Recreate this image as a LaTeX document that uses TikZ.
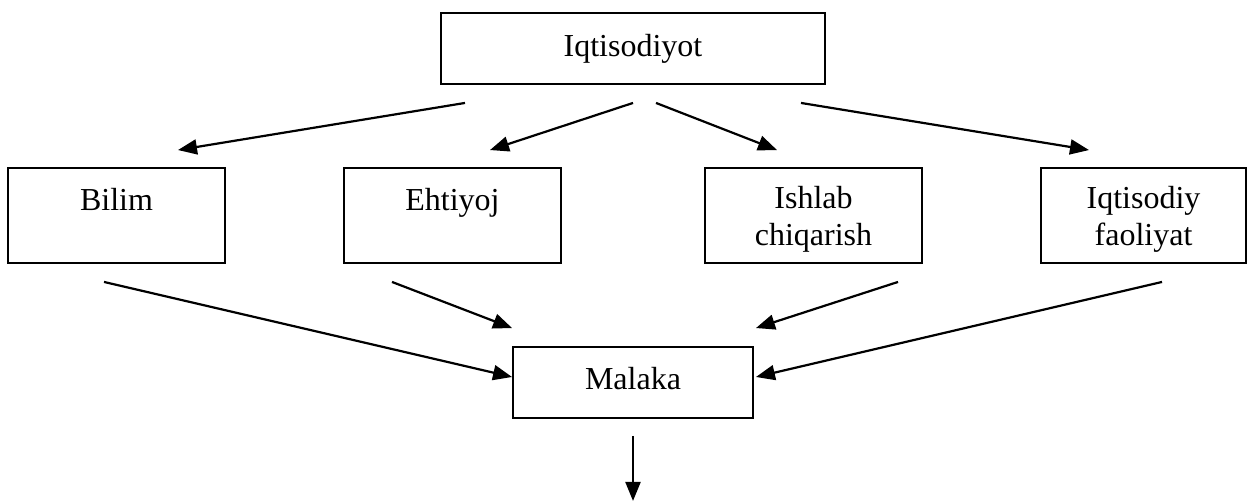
\documentclass[tikz,border=0pt]{standalone}
\usepackage{fontspec}
\setmainfont{Liberation Serif}
\usetikzlibrary{arrows.meta,calc}

\begin{document}
\begin{tikzpicture}[x=0.5pt, y=-0.5pt, font=\fontsize{16}{18.5}\selectfont,
    box/.style={draw, line width=0.95pt, inner sep=0pt, minimum width=108.5pt, minimum height=47.5pt},
    txt/.style={align=center, anchor=north, inner sep=0pt, yshift=-10.5pt},
    arr/.style={line width=1.1pt, -{Triangle[length=9.5pt, width=7.5pt]}}]
    \useasboundingbox (0,0) rectangle (1248,501);

    % top box
    \node [box, minimum width=192pt, minimum height=35.5pt] (iqt) at (633,48.5) {};
    \node [txt, yshift=-0.5pt] (iqt-t) at (iqt.north) {Iqtisodiyot};

    % middle row
    \node [box] (bilim) at (116.5,215.5) {};
    \node [txt] (bilim-t) at (bilim.north) {Bilim};

    \node [box] (ehtiyoj) at (452.5,215.5) {};
    \node [txt] (ehtiyoj-t) at (ehtiyoj.north) {Ehtiyoj};

    \node [box] (ishlab) at (813.5,215.5) {};
    \node [txt, yshift=1pt] (ishlab-t) at (ishlab.north) {Ishlab\\chiqarish};

    \node [box, minimum width=102.5pt] (faoliyat) at (1143.5,215.5) {};
    \node [txt, yshift=1pt] (faoliyat-t) at (faoliyat.north) {Iqtisodiy\\faoliyat};

    % bottom box
    \node [box, minimum width=120pt, minimum height=35.5pt] (malaka) at (633,382.5) {};
    \node [txt] (malaka-t) at (malaka.north) {Malaka};

    % arrows down from the top
    \draw [arr] ($(iqt.south)+(-168,18)$) -- ($(bilim.north)+(61.5,-17)$);
    \draw [arr] ($(iqt.south)+(0,18)$) -- ($(ehtiyoj.north)+(37.5,-17)$);
    \draw [arr] ($(iqt.south)+(23,18)$) -- ($(ishlab.north)+(-36.5,-17)$);
    \draw [arr] ($(iqt.south)+(168,18)$) -- ($(faoliyat.north)+(-54.5,-17)$);

    % arrows into Malaka
    \draw [arr] ($(bilim.south)+(-12.5,18)$) -- ($(malaka.west)+(0,-5.5)$);
    \draw [arr] ($(ehtiyoj.south)+(-60.5,18)$) -- ($(malaka.north west)+(0,-18)$);
    \draw [arr] ($(ishlab.south)+(84.5,18)$) -- ($(malaka.north east)+(2,-18)$);
    \draw [arr] ($(faoliyat.south)+(18.5,18)$) -- ($(malaka.east)+(2,-5.5)$);

    \draw [arr] ($(malaka.south)+(0,17)$) -- ($(malaka.south)+(0,82)$);
\end{tikzpicture}
\end{document}
